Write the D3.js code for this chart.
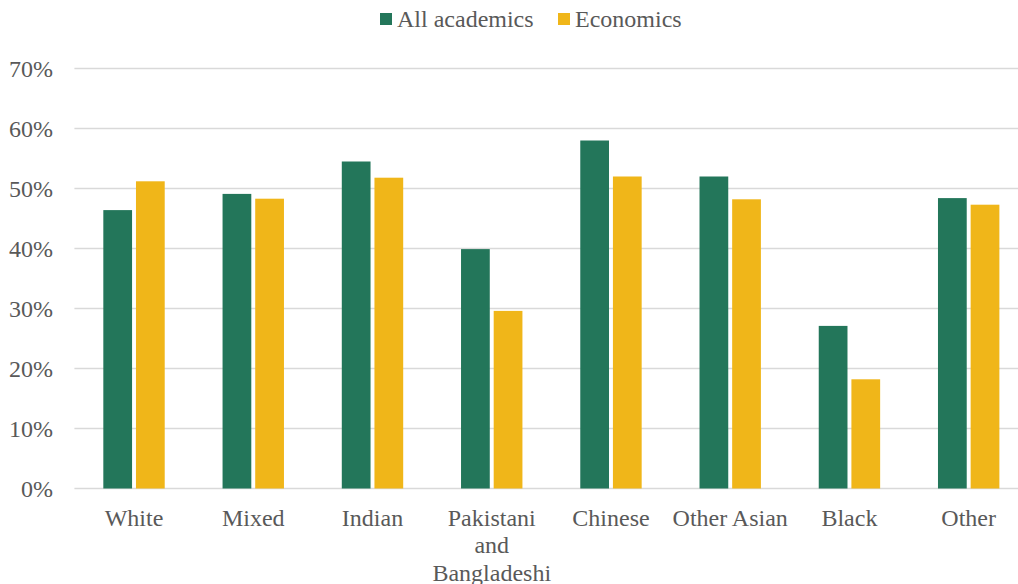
<!DOCTYPE html>
<html><head><meta charset="utf-8">
<script src="https://cdn.jsdelivr.net/npm/d3@7"></script>
</head>
<body style="margin:0;background:#fff"><svg id="c" width="1018" height="584" font-family="Liberation Serif"></svg>
<script>
const categories = ["White","Mixed","Indian","Pakistani and Bangladeshi","Chinese","Other Asian","Black","Other"];
const labelLines = [["White"],["Mixed"],["Indian"],["Pakistani","and","Bangladeshi"],["Chinese"],["Other Asian"],["Black"],["Other"]];
const seriesNames = ["All academics","Economics"];
const allAcademics = [46.4,49.1,54.5,39.9,58.0,52.0,27.1,48.4];
const economics = [51.2,48.3,51.8,29.6,52.0,48.2,18.2,47.3];
const yTicks = [0,10,20,30,40,50,60,70];
const colors = ["#23765A","#F0B619"];
const FONT = "Liberation Serif";
const FS = 24, TXT = "#595959";

const svg = d3.select("#c");
const x0 = d3.scaleBand().domain(categories).range([74.4,1028.3]).paddingInner(0).paddingOuter(0);
const y = d3.scaleLinear().domain([0,70]).range([488.5,68.5]);
const groupW = 61.4;
const x1 = d3.scaleBand().domain(seriesNames).range([0,groupW]).paddingInner(0.12);

// gridlines
svg.append("g").selectAll("line").data(yTicks).join("line")
  .attr("x1",74.4).attr("x2",1018).attr("y1",d=>y(d)).attr("y2",d=>y(d))
  .attr("stroke","#d9d9d9").attr("stroke-width",1.5);

// y axis labels
const yAxis = d3.axisLeft(y).tickValues(yTicks).tickFormat(d=>d+"%").tickSize(0).tickPadding(0);
const ya = svg.append("g").attr("transform","translate(53,0)").call(yAxis);
ya.select(".domain").remove();
ya.attr("font-size",FS).attr("font-family",FONT);
ya.selectAll("text").attr("fill",TXT).attr("font-family",FONT).attr("font-size",FS);

const data = categories.map((c,i)=>({c, vals:[allAcademics[i],economics[i]]}));
const g = svg.append("g").selectAll("g").data(data).join("g")
  .attr("transform",d=>`translate(${x0(d.c)+(x0.bandwidth()-groupW)/2},0)`);
g.selectAll("rect").data(d=>d.vals.map((v,j)=>({s:seriesNames[j],v,j}))).join("rect")
  .attr("x",d=>x1(d.s)).attr("width",x1.bandwidth())
  .attr("y",d=>y(d.v)).attr("height",d=>y(0)-y(d.v))
  .attr("fill",d=>colors[d.j]);

// x labels
const xl = svg.append("g").selectAll("text").data(categories).join("text")
  .attr("x",d=>x0(d)+x0.bandwidth()/2).attr("y",525.5)
  .attr("text-anchor","middle").attr("fill",TXT)
  .attr("font-family",FONT).attr("font-size",FS);
xl.each(function(d,i){
  const t=d3.select(this);
  labelLines[i].forEach((ln,k)=>t.append("tspan").attr("x",x0(d)+x0.bandwidth()/2).attr("dy",k===0?0:27.5).text(ln));
});

// legend
const leg = svg.append("g");
const legItems = [{n:seriesNames[0],x:380,tx:397},{n:seriesNames[1],x:558,tx:575}];
legItems.forEach((it,i)=>{
  leg.append("rect").attr("x",it.x).attr("y",13).attr("width",12).attr("height",12).attr("fill",colors[i]);
  leg.append("text").attr("x",it.tx).attr("y",26.5).attr("fill",TXT)
    .attr("font-family",FONT).attr("font-size",FS).text(it.n);
});
</script></body></html>
